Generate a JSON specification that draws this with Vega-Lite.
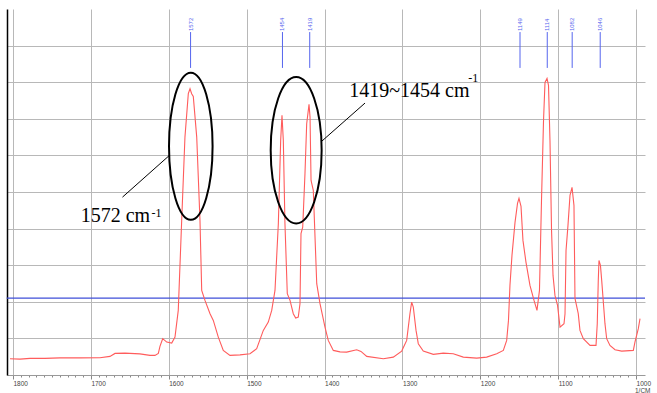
{
  "$schema": "https://vega.github.io/schema/vega-lite/v6.json",
  "width": 638,
  "height": 366,
  "autosize": {"type": "none"},
  "padding": {"left": 7, "top": 9, "right": 12, "bottom": 18},
  "background": "white",
  "config": {"view": {"stroke": null}},
  "encoding": {
    "x": {
      "field": "wn", "type": "quantitative",
      "scale": {"domain": [988.5, 1807.7], "reverse": true, "nice": false, "zero": false},
      "axis": {
        "values": [1000,1010,1020,1030,1040,1050,1060,1070,1080,1090,1100,1110,1120,1130,1140,1150,1160,1170,1180,1190,1200,1210,1220,1230,1240,1250,1260,1270,1280,1290,1300,1310,1320,1330,1340,1350,1360,1370,1380,1390,1400,1410,1420,1430,1440,1450,1460,1470,1480,1490,1500,1510,1520,1530,1540,1550,1560,1570,1580,1590,1600,1610,1620,1630,1640,1650,1660,1670,1680,1690,1700,1710,1720,1730,1740,1750,1760,1770,1780,1790,1800],
        "format": "d",
        "labelExpr": "datum.value % 100 === 0 ? datum.label : ''",
        "labelOverlap": false,
        "labelFlush": false,
        "labelAlign": "left",
        "labelFont": "Liberation Sans",
        "labelFontSize": 6.5,
        "labelColor": "#444444",
        "labelPadding": 1,
        "tickSize": {"condition": {"test": "datum.value % 100 === 0", "value": 4}, "value": 2},
        "tickColor": "#888888",
        "domainColor": "#999999",
        "grid": true,
        "gridColor": "#b8b8b8",
        "gridOpacity": {"condition": {"test": "datum.value % 100 === 0", "value": 1}, "value": 0},
        "title": "1/CM",
        "titleFont": "Liberation Sans",
        "titleFontSize": 6.5,
        "titleFontWeight": "normal",
        "titleColor": "#444444",
        "titleAnchor": "end",
        "titleAlign": "right",
        "titleX": 643,
        "titleY": 17.5,
        "titleBaseline": "alphabetic"
      }
    },
    "y": {
      "field": "abs", "type": "quantitative",
      "scale": {"domain": [0, 10], "nice": false, "zero": false},
      "axis": {
        "values": [1,2,3,4,5,6,7,8,9],
        "labels": false,
        "ticks": false,
        "title": null,
        "grid": true,
        "gridColor": "#b8b8b8",
        "domainColor": "#000000",
        "domainWidth": 1.5
      }
    }
  },
  "layer": [
    {
      "data": {"values": [
        {"wn": 1808, "wn2": 988.5, "abs": 2.1}
      ]},
      "mark": {"type": "rule", "color": "#3f4fd8", "strokeWidth": 1.2},
      "encoding": {"x2": {"field": "wn2"}}
    },
    {
      "data": {"values": [
        {"wn":1803.9,"abs":0.445},{"wn":1791.0,"abs":0.434},{"wn":1778.2,"abs":0.454},{"wn":1758.9,"abs":0.454},
        {"wn":1739.7,"abs":0.467},{"wn":1714.0,"abs":0.467},{"wn":1688.3,"abs":0.473},{"wn":1675.5,"abs":0.508},
        {"wn":1669.0,"abs":0.590},{"wn":1656.2,"abs":0.598},{"wn":1637.1,"abs":0.576},{"wn":1624.1,"abs":0.536},
        {"wn":1617.7,"abs":0.536},{"wn":1613.4,"abs":0.590},{"wn":1611.3,"abs":0.781},{"wn":1607.8,"abs":0.992},
        {"wn":1602.6,"abs":0.899},{"wn":1596.2,"abs":0.872},{"wn":1592.0,"abs":1.036},{"wn":1587.8,"abs":1.765},
        {"wn":1583.4,"abs":4.224},{"wn":1579.2,"abs":6.500},{"wn":1574.9,"abs":7.686},{"wn":1572.7,"abs":7.822},
        {"wn":1570.6,"abs":7.686},{"wn":1568.5,"abs":7.612},{"wn":1564.1,"abs":6.500},{"wn":1559.9,"abs":4.224},
        {"wn":1557.7,"abs":2.311},{"wn":1553.5,"abs":2.038},{"wn":1547.0,"abs":1.675},{"wn":1542.8,"abs":1.492},
        {"wn":1536.4,"abs":1.036},{"wn":1530.0,"abs":0.672},{"wn":1521.4,"abs":0.536},{"wn":1508.5,"abs":0.549},
        {"wn":1495.7,"abs":0.582},{"wn":1487.1,"abs":0.719},{"wn":1478.6,"abs":1.219},{"wn":1472.2,"abs":1.445},
        {"wn":1467.8,"abs":1.765},{"wn":1463.6,"abs":2.311},{"wn":1459.3,"abs":4.134},{"wn":1456.3,"abs":6.410},
        {"wn":1454.6,"abs":7.093},{"wn":1452.9,"abs":6.410},{"wn":1450.8,"abs":4.134},{"wn":1447.8,"abs":2.221},
        {"wn":1444.3,"abs":2.038},{"wn":1440.1,"abs":1.675},{"wn":1437.0,"abs":1.555},{"wn":1433.7,"abs":1.582},
        {"wn":1431.5,"abs":1.948},{"wn":1430.2,"abs":3.861},{"wn":1428.0,"abs":4.041},{"wn":1425.1,"abs":5.500},
        {"wn":1422.9,"abs":6.866},{"wn":1419.9,"abs":7.393},{"wn":1418.6,"abs":7.047},{"wn":1417.3,"abs":5.317},
        {"wn":1414.4,"abs":5.044},{"wn":1410.0,"abs":2.495},{"wn":1405.8,"abs":1.948},{"wn":1399.4,"abs":1.309},
        {"wn":1395.2,"abs":0.945},{"wn":1388.7,"abs":0.672},{"wn":1380.1,"abs":0.631},{"wn":1371.5,"abs":0.626},
        {"wn":1358.7,"abs":0.691},{"wn":1353.2,"abs":0.645},{"wn":1345.8,"abs":0.508},{"wn":1324.5,"abs":0.445},
        {"wn":1311.7,"abs":0.489},{"wn":1300.9,"abs":0.653},{"wn":1294.5,"abs":0.945},{"wn":1290.3,"abs":1.675},
        {"wn":1288.1,"abs":1.992},{"wn":1286.0,"abs":1.855},{"wn":1282.5,"abs":1.219},{"wn":1279.6,"abs":0.855},
        {"wn":1273.2,"abs":0.653},{"wn":1260.3,"abs":0.563},{"wn":1247.5,"abs":0.598},{"wn":1234.7,"abs":0.582},
        {"wn":1221.8,"abs":0.489},{"wn":1204.6,"abs":0.462},{"wn":1191.8,"abs":0.489},{"wn":1178.9,"abs":0.582},
        {"wn":1170.4,"abs":0.672},{"wn":1166.1,"abs":0.945},{"wn":1163.8,"abs":1.492},{"wn":1161.9,"abs":2.448},
        {"wn":1159.3,"abs":3.268},{"wn":1155.4,"abs":4.169},{"wn":1152.2,"abs":4.689},{"wn":1150.3,"abs":4.825},
        {"wn":1147.7,"abs":4.607},{"wn":1145.2,"abs":3.678},{"wn":1141.3,"abs":3.077},{"wn":1136.2,"abs":2.448},
        {"wn":1131.0,"abs":2.038},{"wn":1127.2,"abs":1.765},{"wn":1124.0,"abs":2.311},{"wn":1121.4,"abs":4.770},
        {"wn":1118.8,"abs":6.956},{"wn":1116.9,"abs":7.995},{"wn":1114.3,"abs":8.104},{"wn":1112.4,"abs":7.913},
        {"wn":1110.5,"abs":6.410},{"wn":1108.5,"abs":3.951},{"wn":1106.6,"abs":2.721},{"wn":1104.1,"abs":2.175},
        {"wn":1100.8,"abs":1.902},{"wn":1097.6,"abs":1.309},{"wn":1092.5,"abs":1.402},{"wn":1091.2,"abs":1.675},
        {"wn":1089.9,"abs":3.404},{"wn":1087.4,"abs":4.087},{"wn":1084.8,"abs":4.907},{"wn":1082.2,"abs":5.126},
        {"wn":1079.7,"abs":4.634},{"wn":1078.4,"abs":2.093},{"wn":1074.2,"abs":1.675},{"wn":1072.0,"abs":1.219},
        {"wn":1067.7,"abs":0.992},{"wn":1059.1,"abs":0.809},{"wn":1051.4,"abs":0.809},{"wn":1049.8,"abs":1.402},
        {"wn":1048.5,"abs":2.585},{"wn":1047.6,"abs":3.131},{"wn":1045.7,"abs":2.995},{"wn":1044.1,"abs":2.585},
        {"wn":1039.9,"abs":1.402},{"wn":1037.7,"abs":0.992},{"wn":1033.5,"abs":0.809},{"wn":1027.0,"abs":0.691},
        {"wn":1018.4,"abs":0.653},{"wn":1003.5,"abs":0.672},{"wn":1001.4,"abs":0.899},{"wn":997.1,"abs":1.265},
        {"wn":994.9,"abs":1.538}
      ]},
      "mark": {"type": "line", "color": "#ff5c5c", "strokeWidth": 1.1}
    },
    {
      "data": {"values": [
        {"wn": 1572, "abs": 8.39, "abs2": 9.37, "label": "1572"},
        {"wn": 1454, "abs": 8.39, "abs2": 9.37, "label": "1454"},
        {"wn": 1419, "abs": 8.39, "abs2": 9.37, "label": "1419"},
        {"wn": 1149, "abs": 8.39, "abs2": 9.37, "label": "1149"},
        {"wn": 1114, "abs": 8.39, "abs2": 9.37, "label": "1114"},
        {"wn": 1082, "abs": 8.39, "abs2": 9.37, "label": "1082"},
        {"wn": 1046, "abs": 8.39, "abs2": 9.37, "label": "1046"}
      ]},
      "layer": [
        {
          "mark": {"type": "rule", "color": "#5565ee", "strokeWidth": 1},
          "encoding": {"y2": {"field": "abs2"}}
        },
        {
          "mark": {"type": "text", "angle": 270, "align": "left", "baseline": "middle", "font": "Liberation Sans", "fontSize": 6, "color": "#5565ee", "dx": 1},
          "encoding": {"y": {"field": "abs2"}, "text": {"field": "label"}}
        }
      ]
    },
    {
      "data": {"values": [{"wn": 1571.7, "abs": 6.25}]},
      "mark": {"type": "point", "shape": "M -0.296 0 A 0.296 1 0 1 0 0.296 0 A 0.296 1 0 1 0 -0.296 0 Z", "size": 21668, "filled": false, "stroke": "#000000", "strokeWidth": 2, "opacity": 1}
    },
    {
      "data": {"values": [{"wn": 1436.4, "abs": 6.14}]},
      "mark": {"type": "point", "shape": "M -0.348 0 A 0.348 1 0 1 0 0.348 0 A 0.348 1 0 1 0 -0.348 0 Z", "size": 21433, "filled": false, "stroke": "#000000", "strokeWidth": 2, "opacity": 1}
    },
    {
      "data": {"values": [
        {"wn": 1659.4, "abs": 4.86, "wn2": 1599.7, "abs2": 5.99},
        {"wn": 1404.5, "abs": 6.37, "wn2": 1348.0, "abs2": 7.43}
      ]},
      "mark": {"type": "rule", "color": "#000000", "strokeWidth": 1},
      "encoding": {"x2": {"field": "wn2"}, "y2": {"field": "abs2"}}
    },
    {
      "data": {"values": [
        {"wn": 1713.1, "abs": 4.18, "label": "1572 cm"},
        {"wn": 1368.2, "abs": 7.60, "label": "1419~1454 cm"}
      ]},
      "mark": {"type": "text", "align": "left", "baseline": "alphabetic", "font": "Liberation Serif", "fontSize": 20, "color": "#000000"},
      "encoding": {"text": {"field": "label"}}
    },
    {
      "data": {"values": [
        {"wn": 1622.2, "abs": 4.33, "label": "-1"},
        {"wn": 1215.4, "abs": 8.01, "label": "-1"}
      ]},
      "mark": {"type": "text", "align": "left", "baseline": "alphabetic", "font": "Liberation Serif", "fontSize": 12, "color": "#000000"},
      "encoding": {"text": {"field": "label"}}
    }
  ]
}
